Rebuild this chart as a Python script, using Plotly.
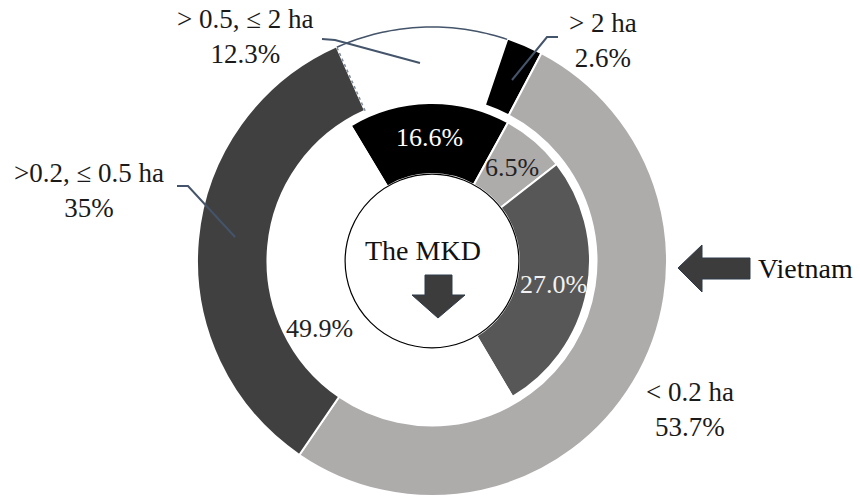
import math
import plotly.graph_objects as go

W, H = 860, 500

# ---- data ----
outer_labels = ["> 0.5, \u2264 2 ha", "> 2 ha", "< 0.2 ha", ">0.2, \u2264 0.5 ha"]
outer_values = [12.3, 2.6, 53.7, 35]
inner_labels = ["> 2 ha", "< 0.2 ha", ">0.2, \u2264 0.5 ha", "> 0.5, \u2264 2 ha"]
inner_values = [16.6, 6.5, 27.0, 49.9]
outer_name = "Vietnam"
inner_name = "The MKD"

# ---- styles ----
outer_colors = ["#ffffff", "#000000", "#aeabab", "#404040"]
inner_colors = ["#000000", "#aeabab", "#575757", "#ffffff"]
inner_text_colors = ["#ffffff", "#222222", "#f2f2f2", "#222222"]
FONT = "Liberation Serif"
FS_OUT = 27
FS_IN = 26
CX, CY = 432, 261          # pixel centre
R_OUT, HOLE_OUT = 235, 0.70
R_IN, HOLE_IN = 158, 0.55
ROT_OUT, ROT_IN = 336, 329
LEAD = "#44546a"


def X(px):
    return px / W


def Y(py):
    return 1 - py / H


def dom(r):
    return dict(x=[X(CX - r), X(CX + r)], y=[Y(CY + r), Y(CY - r)])


fig = go.Figure()
fig.add_trace(go.Pie(
    labels=outer_labels, values=outer_values, sort=False, direction="clockwise",
    rotation=ROT_OUT, hole=HOLE_OUT, domain=dom(R_OUT), textinfo="none",
    marker=dict(colors=outer_colors, line=dict(color="#ffffff", width=2)),
    hoverinfo="label+value", name=outer_name))
fig.add_trace(go.Pie(
    labels=inner_labels, values=inner_values, sort=False, direction="clockwise",
    rotation=ROT_IN, hole=HOLE_IN, domain=dom(R_IN), textinfo="none",
    marker=dict(colors=inner_colors, line=dict(color="#ffffff", width=2)),
    hoverinfo="label+value", name=inner_name))

shapes = []
annotations = []


def polar(r, ang_deg):
    a = math.radians(ang_deg)
    return CX + r * math.sin(a), CY - r * math.cos(a)


# outline of the white outer slice (outer arc + left radial edge)
tot = sum(outer_values)
a0 = ROT_OUT
a1 = ROT_OUT + outer_values[0] / tot * 360
pts = []
n = 40
for i in range(n + 1):
    pts.append(polar(R_OUT - 1, a0 + (a1 - a0) * i / n))
path = "M " + " L ".join(f"{X(p[0]):.5f},{Y(p[1]):.5f}" for p in pts)
shapes.append(dict(type="path", xref="paper", yref="paper", path=path,
                   line=dict(color=LEAD, width=1.5)))
p1 = polar(R_OUT * HOLE_OUT, a0)
p2 = polar(R_OUT, a0)
shapes.append(dict(type="line", xref="paper", yref="paper",
                   x0=X(p1[0]), y0=Y(p1[1]), x1=X(p2[0]), y1=Y(p2[1]),
                   line=dict(color="#7f8a9a", width=1.5, dash="dot")))

# hole circle outline
rh = R_IN * HOLE_IN
shapes.append(dict(type="circle", xref="paper", yref="paper",
                   x0=X(CX - rh), x1=X(CX + rh), y0=Y(CY + rh), y1=Y(CY - rh),
                   line=dict(color="#000000", width=1.2), fillcolor="rgba(0,0,0,0)"))

# leader lines (pixel polylines)
leaders = [
    [(322, 39), (335, 40), (420, 63)],
    [(558, 37), (547, 37), (512, 80)],
    [(177, 186), (188, 186), (235, 237)],
]
for ln in leaders:
    path = "M " + " L ".join(f"{X(a):.5f},{Y(b):.5f}" for a, b in ln)
    shapes.append(dict(type="path", xref="paper", yref="paper", path=path,
                       line=dict(color=LEAD, width=2)))

# arrows
left_arrow = [(678, 268), (702, 245), (702, 258), (750, 258), (750, 279), (702, 279), (702, 292)]
down_arrow = [(425, 275), (452, 275), (452, 295), (465, 295), (438, 318), (412, 295), (425, 295)]
for arr in (left_arrow, down_arrow):
    path = "M " + " L ".join(f"{X(a):.5f},{Y(b):.5f}" for a, b in arr) + " Z"
    shapes.append(dict(type="path", xref="paper", yref="paper", path=path,
                       fillcolor="#3c3c3c", line=dict(color="#2f3a4a", width=1)))

# outer labels
outer_pos = [(245, 37), (603, 41), (690, 409), (89, 190)]
for lab, v, (px, py) in zip(outer_labels, outer_values, outer_pos):
    annotations.append(dict(x=X(px), y=Y(py), xref="paper", yref="paper",
                            text=f"{lab}<br>{v:g}%", showarrow=False,
                            xanchor="center", yanchor="middle",
                            font=dict(family=FONT, size=FS_OUT, color="#1a1a1a")))

# inner labels at slice mid-angles
tot_in = sum(inner_values)
cum = 0
r_txt = R_IN * (1 + HOLE_IN) / 2 + 1
for v, c in zip(inner_values, inner_text_colors):
    mid = ROT_IN + (cum + v / 2) / tot_in * 360
    cum += v
    rr = r_txt if v < 40 else r_txt + 8
    px, py = polar(rr, mid)
    annotations.append(dict(x=X(px), y=Y(py), xref="paper", yref="paper",
                            text=f"{v:.1f}%", showarrow=False,
                            xanchor="center", yanchor="middle",
                            font=dict(family=FONT, size=FS_IN, color=c)))

annotations.append(dict(x=X(423), y=Y(250), xref="paper", yref="paper",
                        text=inner_name, showarrow=False, xanchor="center", yanchor="middle",
                        font=dict(family=FONT, size=28, color="#111111")))
annotations.append(dict(x=X(756), y=Y(268), xref="paper", yref="paper",
                        text=outer_name, showarrow=False, xanchor="left", yanchor="middle",
                        font=dict(family=FONT, size=28, color="#111111")))

fig.update_layout(width=W, height=H, margin=dict(l=0, r=0, t=0, b=0),
                  paper_bgcolor="#ffffff", plot_bgcolor="#ffffff",
                  showlegend=False, shapes=shapes, annotations=annotations)

fig.write_html("out.html")
